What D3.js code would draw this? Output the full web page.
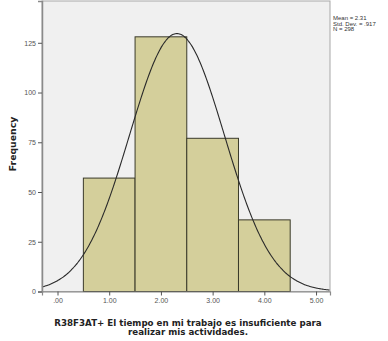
<!DOCTYPE html>
<html>
<head>
<meta charset="utf-8">
<script src="https://cdn.jsdelivr.net/npm/d3@7"></script>
<style>
  html, body { margin: 0; padding: 0; background: #fff; }
  svg { display: block; font-family: "Liberation Sans", Arial, sans-serif; }
  .label { font-family: "DejaVu Sans", Verdana, sans-serif; font-weight: bold; fill: #222; }
</style>
</head>
<body>
<svg id="chart" width="388" height="341"></svg>
<script>
// Response categories (bin centres) and their frequencies
const binCenters = [1, 2, 3, 4];
const frequencies = [57, 128, 77, 36];
const binWidth = 1;

// Axis ticks
const xTicks = [0, 1, 2, 3, 4, 5];
const xTickLabels = [".00", "1.00", "2.00", "3.00", "4.00", "5.00"];
const yTicks = [0, 25, 50, 75, 100, 125];

// Summary statistics shown beside the plot
const statMean = 2.31;
const statSD = 0.917;
const statN = 298;
const statLines = ["Mean = 2.31", "Std. Dev. = .917", "N = 298"];

const titleLines = [
  "R38F3AT+ El tiempo en mi trabajo es insuficiente para",
  "realizar mis actividades."
];

const svg = d3.select("#chart");
const plot = { left: 42, right: 330, top: 1, bottom: 291.5 };

const x = d3.scaleLinear().domain([-0.3, 5.27]).range([plot.left, plot.right]);
const y = d3.scaleLinear().domain([0, 146]).range([plot.bottom, plot.top]);

// Plot background
svg.append("rect")
  .attr("x", plot.left).attr("y", plot.top)
  .attr("width", plot.right - plot.left).attr("height", plot.bottom - plot.top)
  .attr("fill", "#f0f0f0").attr("stroke", "#a8a8a8").attr("stroke-width", 1);

// Histogram bars
svg.append("g").selectAll("rect")
  .data(binCenters.map((c, i) => ({ c, f: frequencies[i] })))
  .join("rect")
  .attr("x", d => x(d.c - binWidth / 2))
  .attr("y", d => y(d.f))
  .attr("width", d => x(d.c + binWidth / 2) - x(d.c - binWidth / 2))
  .attr("height", d => y(0) - y(d.f))
  .attr("fill", "#d4cf9b")
  .attr("stroke", "#3a3a2a")
  .attr("stroke-width", 1);

// Normal curve scaled to counts
const pdf = v => statN * binWidth / (statSD * Math.sqrt(2 * Math.PI)) *
  Math.exp(-0.5 * Math.pow((v - statMean) / statSD, 2));
const curvePts = d3.range(-0.3, 5.2701, 0.02).map(v => [v, pdf(v)]);
svg.append("path")
  .datum(curvePts)
  .attr("fill", "none")
  .attr("stroke", "#2a2a2a")
  .attr("stroke-width", 1.1)
  .attr("d", d3.line().x(d => x(d[0])).y(d => y(d[1])).curve(d3.curveBasis));

// Y axis
const yAxis = svg.append("g")
  .attr("transform", `translate(${plot.left},0)`)
  .call(d3.axisLeft(y).tickValues(yTicks).tickSize(4).tickPadding(2));
yAxis.select(".domain").attr("stroke", "#8a8a8a").attr("stroke-width", 1.5);
yAxis.selectAll(".tick line").attr("stroke", "#555");
yAxis.selectAll(".tick text").attr("font-size", 7).attr("fill", "#555");

// X axis
const xAxis = svg.append("g")
  .attr("transform", `translate(0,${plot.bottom})`)
  .call(d3.axisBottom(x).tickValues(xTicks)
    .tickFormat((d, i) => xTickLabels[i]).tickSize(4).tickPadding(3));
xAxis.select(".domain").attr("stroke", "#8a8a8a").attr("stroke-width", 1.2);
xAxis.selectAll(".tick line").attr("stroke", "#555");
xAxis.selectAll(".tick text").attr("font-size", 7).attr("fill", "#555");

// Axis titles
svg.append("text")
  .attr("class", "label")
  .attr("transform", "translate(16,144) rotate(-90)")
  .attr("text-anchor", "middle")
  .attr("font-size", 9.3)
  .text("Frequency");

svg.append("g").selectAll("text")
  .data(titleLines)
  .join("text")
  .attr("class", "label")
  .attr("x", 188)
  .attr("y", (d, i) => 326 + i * 8.9)
  .attr("text-anchor", "middle")
  .attr("font-size", 8.7)
  .text(d => d);

// Summary statistics
svg.append("g").selectAll("text")
  .data(statLines)
  .join("text")
  .attr("x", 333)
  .attr("y", (d, i) => 20 + i * 5.6)
  .attr("font-size", 6)
  .attr("fill", "#333")
  .text(d => d);
</script>
</body>
</html>
